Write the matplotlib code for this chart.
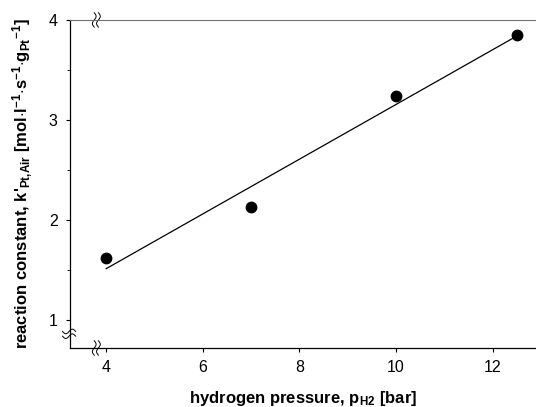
"""Reaction constant vs hydrogen pressure with linear fit."""

import numpy as np
import matplotlib
matplotlib.use("Agg")
import matplotlib.pyplot as plt
from matplotlib.ticker import MultipleLocator

plt.rcParams["font.family"] = ["Liberation Sans", "DejaVu Sans"]
plt.rcParams["mathtext.fontset"] = "custom"
plt.rcParams["mathtext.rm"] = "Liberation Sans:bold"
plt.rcParams["mathtext.bf"] = "Liberation Sans:bold"
plt.rcParams["mathtext.default"] = "bf"

pressure = [4, 7, 10, 12.5]
k_const = [1.62, 2.13, 3.24, 3.85]
x_ticks = [4, 6, 8, 10, 12]
y_ticks = [1, 2, 3, 4]

fig = plt.figure(figsize=(5.36, 4.07), dpi=100)
ax = fig.add_axes([0.1306, 0.145, 0.8694, 0.806])

slope, icept = np.polyfit(pressure, k_const, 1)
xf = np.array([pressure[0], pressure[-1]])
ax.plot(xf, slope * xf + icept, color="black", lw=0.9)
ax.plot(pressure, k_const, "o", color="black", ms=7.5)

ax.set_xlim(3.25, 12.9)
ax.set_ylim(0.72, 4.0)
ax.set_xticks(x_ticks)
ax.set_yticks(y_ticks)
ax.yaxis.set_minor_locator(MultipleLocator(0.5))
ax.tick_params(axis="both", direction="out", length=3, width=0.8, labelsize=11.5, pad=6)
ax.tick_params(axis="y", which="minor", length=2, width=0.6)
ax.spines["right"].set_visible(False)
ax.spines["top"].set_color("0.45")
for side in ["left", "bottom"]:
    ax.spines[side].set_linewidth(0.9)

ax.set_xlabel("hydrogen pressure, p$_{H2}$ [bar]", fontsize=12, fontweight="bold", labelpad=10)
ax.set_ylabel("reaction constant, k'$_{Pt{,}Air}$ [mol$\\cdot$l$^{-1}$$\\cdot$s$^{-1}$$\\cdot$g$_{Pt}$$^{-1}$]",
              fontsize=12, fontweight="bold", labelpad=10)

# axis break marks (tall squiggles on the x spines, flat ones on the y spine)
t = np.linspace(-1, 1, 40)
for off in [0.0, 0.009]:
    for y0 in [0.0, 1.0]:
        ax.plot(0.052 + off + 0.004 * np.sin(np.pi * t), y0 + 0.022 * t, color="black", lw=0.7,
                transform=ax.transAxes, clip_on=False)
    ax.plot(-0.002 + 0.014 * t, 0.036 + off * 1.6 + 0.007 * np.sin(np.pi * t), color="black", lw=0.7,
            transform=ax.transAxes, clip_on=False)

fig.savefig("out.png", dpi=100)
